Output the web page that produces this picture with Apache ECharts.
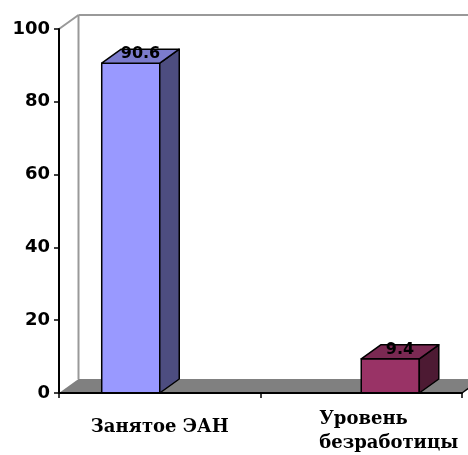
<!DOCTYPE html>
<html>
<head>
<meta charset="utf-8">
<script src="https://cdn.jsdelivr.net/npm/echarts@6/dist/echarts.min.js"></script>
<style>
html,body{margin:0;padding:0;background:#fff;}
#c{width:468px;height:455px;}
</style>
</head>
<body>
<div id="c"></div>
<script>
var categories = ['Занятое ЭАН', 'Уровень\nбезработицы'];
var seriesEmployed = [90.6, null];
var seriesUnemployed = [null, 9.4];
var yTicks = [0, 20, 40, 60, 80, 100];

var DX = 19.5, DY = -14;

function toData(arr) {
  return arr.map(function (v, i) { return [i, v]; }).filter(function (d) { return d[1] != null; });
}

function barRenderer(slot, cFront, cTop, cSide) {
  return function (params, api) {
    var cat = api.value(0), v = api.value(1);
    var base = api.coord([cat, 0]);
    var top = api.coord([cat, v]);
    var band = api.size([1, 0])[0];
    var w = band * 0.288;
    var cx = base[0] + (slot - 0.5) * w;
    var x0 = cx - w / 2, x1 = cx + w / 2;
    var y0 = base[1], y1 = top[1];
    var st = { stroke: '#000', lineWidth: 1.5, lineJoin: 'round' };
    return {
      type: 'group',
      children: [
        { type: 'polygon', shape: { points: [[x0, y0], [x1, y0], [x1, y1], [x0, y1]] }, style: Object.assign({ fill: cFront }, st) },
        { type: 'polygon', shape: { points: [[x1, y0], [x1 + DX, y0 + DY], [x1 + DX, y1 + DY], [x1, y1]] }, style: Object.assign({ fill: cSide }, st) },
        { type: 'polygon', shape: { points: [[x0, y1], [x1, y1], [x1 + DX, y1 + DY], [x0 + DX, y1 + DY]] }, style: Object.assign({ fill: cTop }, st) },
        { type: 'text', style: { text: String(v), x: (x0 + x1 + DX) / 2, y: y1 + DY / 2 - 2, align: 'center', verticalAlign: 'middle',
          font: 'bold 16px "DejaVu Sans"', fill: '#000' } }
      ]
    };
  };
}

var chart = echarts.init(document.getElementById('c'), null, { renderer: 'canvas' });
chart.setOption({
  animation: false,
  backgroundColor: '#fff',
  grid: { left: 59, right: 6, top: 29, bottom: 60, containLabel: false },
  xAxis: {
    type: 'category',
    data: categories,
    z: 10,
    axisLine: { show: true, lineStyle: { color: '#000', width: 2 } },
    axisTick: { show: true, length: 5, lineStyle: { color: '#000', width: 1.5 } },
    axisLabel: {
      interval: 0,
      margin: 38,
      verticalAlign: 'middle',
      fontFamily: '"DejaVu Serif"',
      fontWeight: 'bold',
      fontSize: 18,
      color: '#000',
      lineHeight: 24,
      formatter: function (val, idx) {
        if (idx === 1) {
          return val.split('\n').map(function (s) { return '{l|' + s + '}'; }).join('\n');
        }
        return '{c|' + val + '}';
      },
      rich: {
        c: { fontFamily: '"DejaVu Serif"', fontWeight: 'bold', fontSize: 18, lineHeight: 24, color: '#000', padding: [0, 0, 8, 0] },
        l: { fontFamily: '"DejaVu Serif"', fontWeight: 'bold', fontSize: 18, lineHeight: 24, color: '#000', align: 'left', padding: [0, 0, 0, 55] }
      }
    },
    splitLine: { show: false }
  },
  yAxis: {
    type: 'value',
    min: 0, max: 100, interval: 20,
    z: 10,
    axisLine: { show: true, lineStyle: { color: '#000', width: 2 } },
    axisTick: { show: true, length: 5, lineStyle: { color: '#000', width: 1.5 } },
    axisLabel: {
      margin: 9,
      fontFamily: '"DejaVu Sans"', fontWeight: 'bold', fontSize: 18, color: '#000',
      formatter: function (v) { return yTicks.indexOf(v) >= 0 ? String(v) : ''; }
    },
    splitLine: { show: false }
  },
  series: [
    {
      type: 'custom',
      name: 'walls',
      z: 1,
      clip: false,
      silent: true,
      data: [[0, 0]],
      renderItem: function (params, api) {
        var cs = params.coordSys;
        var x = cs.x, y = cs.y, w = cs.width, h = cs.height;
        var g = { stroke: '#999', lineWidth: 2 };
        return {
          type: 'group',
          children: [
            { type: 'polygon', shape: { points: [[x, y + h], [x + DX, y + h + DY], [x + w + DX, y + h + DY], [x + w, y + h]] }, style: { fill: '#808080' } },
            { type: 'line', shape: { x1: x, y1: y, x2: x + DX, y2: y + DY }, style: g },
            { type: 'line', shape: { x1: x + DX, y1: y + DY, x2: x + DX, y2: y + h + DY }, style: g },
            { type: 'line', shape: { x1: x + DX, y1: y + DY, x2: x + w + DX, y2: y + DY }, style: g },
            { type: 'line', shape: { x1: x + w, y1: y + h, x2: x + w + DX, y2: y + h + DY }, style: { stroke: '#000', lineWidth: 1.5 } }
          ]
        };
      }
    },
    {
      type: 'custom',
      name: 'Занятое ЭАН',
      z: 2,
      clip: false,
      encode: { x: 0, y: 1 },
      data: toData(seriesEmployed),
      renderItem: barRenderer(0, '#9999FF', '#7B7BCC', '#4D4D80')
    },
    {
      type: 'custom',
      name: 'Уровень безработицы',
      z: 2,
      clip: false,
      encode: { x: 0, y: 1 },
      data: toData(seriesUnemployed),
      renderItem: barRenderer(1, '#993366', '#7A2952', '#4D1A33')
    }
  ]
});
</script>
</body>
</html>
